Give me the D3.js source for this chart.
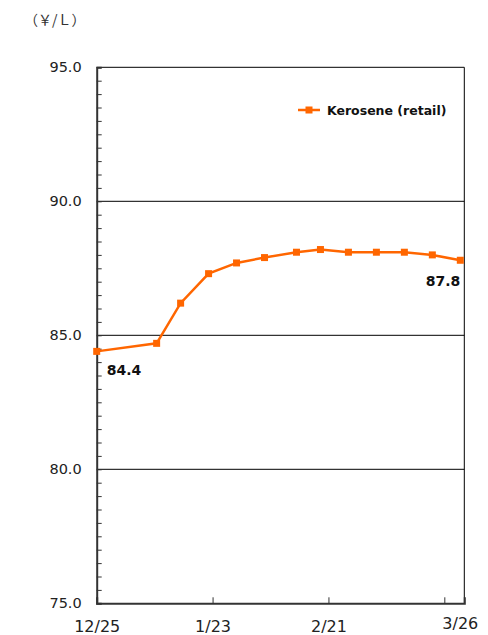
<!DOCTYPE html>
<html><head><meta charset="utf-8">
<script src="https://cdn.jsdelivr.net/npm/d3@7"></script>
<style>body{margin:0;background:#fff}svg{display:block}</style>
</head><body>
<svg id="c" width="488" height="635"></svg>
<script>
const dates = ["2023-12-25","2024-01-09","2024-01-15","2024-01-22","2024-01-29","2024-02-05","2024-02-13","2024-02-19","2024-02-26","2024-03-04","2024-03-11","2024-03-18","2024-03-25"];
const values = [84.4,84.7,86.2,87.3,87.7,87.9,88.1,88.2,88.1,88.1,88.1,88.0,87.8];
const seriesName = "Kerosene (retail)";
const yTicks = [75,80,85,90,95];
const xTickDates = ["2023-12-25","2024-01-23","2024-02-21","2024-03-21"];
const xTickLabels = ["12/25","1/23","2/21",""];
const endLabel = "3/26";
const unitLabel = "（￥/Ｌ）";

const parse = d3.timeParse("%Y-%m-%d");
const svg = d3.select("#c");
const L = 96.7, R = 464.3, T = 67.3, B = 603.3;
const x = d3.scaleTime().domain([parse("2023-12-25"), parse("2024-03-26")]).range([L, R]);
const y = d3.scaleLinear().domain([75,95]).range([B, T]);
const font = "'DejaVu Sans', sans-serif";
const orange = "#FF6600";

// gridlines
svg.append("g").selectAll("line").data([80,85,90]).join("line")
  .attr("x1", L).attr("x2", R).attr("y1", d=>y(d)).attr("y2", d=>y(d))
  .attr("stroke", "#000").attr("stroke-width", 1);
// top/right border
svg.append("line").attr("x1", L).attr("x2", R).attr("y1", y(95)).attr("y2", y(95)).attr("stroke","#000").attr("stroke-width",1);
svg.append("line").attr("x1", R).attr("x2", R).attr("y1", T).attr("y2", B).attr("stroke","#000").attr("stroke-width",1);

// y axis
const yAxisMinor = d3.axisRight(y).tickValues(d3.range(75, 95.01, 0.5)).tickSize(5).tickFormat("");
const gy = svg.append("g").attr("transform", `translate(${L},0)`).call(yAxisMinor);
gy.select(".domain").attr("stroke", "#333").attr("stroke-width", 2);
gy.selectAll(".tick line").attr("stroke", "#333").attr("stroke-width", 1);
const gyl = svg.append("g").attr("transform", `translate(${L},0)`)
  .call(d3.axisLeft(y).tickValues(yTicks).tickSize(0).tickPadding(15).tickFormat(d3.format(".1f")));
gyl.select(".domain").remove();
gyl.selectAll("text").attr("font-family", font).attr("font-size", 14.5).attr("fill", "#222");

// x axis
const gx = svg.append("g").attr("transform", `translate(0,${B})`)
  .call(d3.axisTop(x).tickValues(xTickDates.map(parse)).tickSize(6).tickFormat(""));
gx.select(".domain").attr("stroke", "#333").attr("stroke-width", 2);
gx.selectAll(".tick line").attr("stroke", "#333");
const gxl = svg.append("g").attr("transform", `translate(0,${B})`)
  .call(d3.axisBottom(x).tickValues(xTickDates.map(parse)).tickSize(0).tickPadding(17)
    .tickFormat((d,i)=>xTickLabels[i]));
gxl.select(".domain").remove();
gxl.selectAll("text").attr("font-family", font).attr("font-size", 16).attr("fill", "#222");
svg.append("text").attr("x", x(parse("2024-03-25"))).attr("y", 629).attr("text-anchor","middle")
  .attr("font-family", font).attr("font-size", 16).attr("fill", "#222").text(endLabel);

// unit
svg.append("text").attr("x", 24).attr("y", 25).attr("font-family", "'Noto Sans CJK JP', sans-serif")
  .attr("font-size", 14).attr("fill", "#333").text(unitLabel);

// line
const data = dates.map((d,i)=>({d: parse(d), v: values[i]}));
svg.append("path").datum(data)
  .attr("d", d3.line().x(d=>x(d.d)).y(d=>y(d.v)))
  .attr("fill","none").attr("stroke", orange).attr("stroke-width", 2.5);
svg.append("g").selectAll("rect").data(data).join("rect")
  .attr("x", d=>x(d.d)-3.5).attr("y", d=>y(d.v)-3.5).attr("width",7).attr("height",7).attr("fill", orange);

// data labels
svg.append("text").attr("x", x(data[0].d)+10).attr("y", y(data[0].v)+24)
  .attr("font-family", font).attr("font-weight","bold").attr("font-size", 14).attr("fill","#111").text(values[0].toFixed(1));
const last = data[data.length-1];
svg.append("text").attr("x", x(last.d)).attr("y", y(last.v)+26).attr("text-anchor","end")
  .attr("font-family", font).attr("font-weight","bold").attr("font-size", 14).attr("fill","#111").text(values[values.length-1].toFixed(1));

// legend
const lg = svg.append("g");
lg.append("line").attr("x1", 298).attr("x2", 320).attr("y1", 110).attr("y2", 110).attr("stroke", orange).attr("stroke-width", 2.5);
lg.append("rect").attr("x", 305.5).attr("y", 106.5).attr("width", 7).attr("height", 7).attr("fill", orange);
lg.append("text").attr("x", 327).attr("y", 115).attr("font-family", font).attr("font-weight","bold")
  .attr("font-size", 12.5).attr("fill","#111").text(seriesName);
</script>
</body></html>
